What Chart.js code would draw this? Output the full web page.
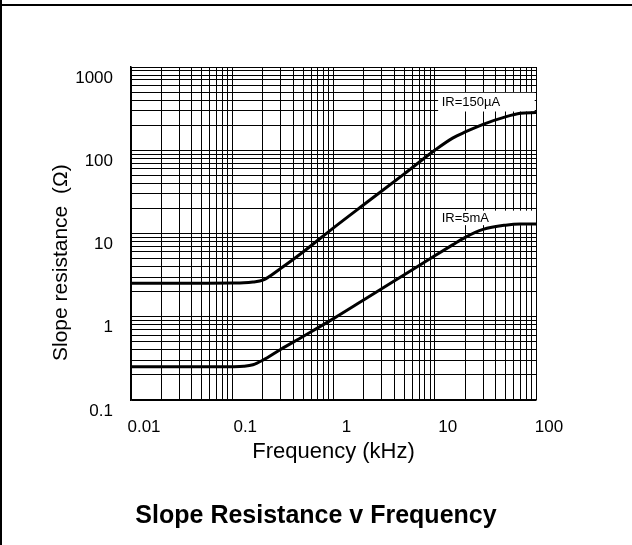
<!DOCTYPE html>
<html>
<head>
<meta charset="utf-8">
<script src="https://cdn.jsdelivr.net/npm/chart.js@4.4.0/dist/chart.umd.min.js"></script>
<style>
body { margin: 0; background: #fff; }
#wrap { position: relative; width: 632px; height: 545px; }
#frameTop { position: absolute; left: 0; top: 4px; width: 632px; height: 2px; background: #000; }
#frameLeft { position: absolute; left: 0; top: 0; width: 2px; height: 545px; background: #000; }
</style>
</head>
<body>
<div id="wrap">
  <canvas id="grafico"></canvas>
  <div id="frameTop"></div>
  <div id="frameLeft"></div>
</div>
<script>
var frecuencias = [0.01, 0.02, 0.05, 0.1, 0.13, 0.16, 0.2, 0.3, 0.5, 1, 2, 5, 10, 15, 20, 30, 50, 70, 100];
var r150uA = [2.53, 2.53, 2.53, 2.54, 2.56, 2.62, 2.75, 3.8, 6.0, 11.7, 22.3, 52, 100, 140, 166, 205, 252, 278, 284];
var r5mA = [0.25, 0.25, 0.25, 0.251, 0.254, 0.265, 0.30, 0.405, 0.58, 0.95, 1.6, 3.2, 5.4, 7.3, 9.0, 11.2, 12.6, 13.0, 13.0];
var decadasX = [0.01, 0.1, 1, 10, 100];
var decadasY = [0.1, 1, 10, 100, 1000];

var fuente = "'Liberation Sans', Arial, sans-serif";

// grid lines at 1..9 of every decade
function rejilla(decadas) {
  var t = [];
  for (var i = 0; i < decadas.length - 1; i++) {
    for (var k = 1; k < 10; k++) t.push(k === 1 ? decadas[i] : k * decadas[i]);
  }
  t.push(decadas[decadas.length - 1]);
  return t;
}

function puntos(vals) {
  return frecuencias.map(function (f, i) { return { x: f, y: vals[i] }; });
}

// white boxed curve labels
var notas = [
  { texto: 'IR=150\u00b5A', x0: 10.8, x1: 97, yTop: 490, yBot: 292, xt: 11.7, yt: 375 },
  { texto: 'IR=5mA', x0: 10.8, x1: 97, yTop: 18.8, yBot: 12.6, xt: 11.7, yt: 15.2 }
];

var etiquetas = {
  id: 'etiquetas',
  beforeDatasetsDraw: function (chart) {
    var ctx = chart.ctx, sx = chart.scales.x, sy = chart.scales.y;
    ctx.save();
    notas.forEach(function (n) {
      var l = sx.getPixelForValue(n.x0), r = sx.getPixelForValue(n.x1);
      var t = sy.getPixelForValue(n.yTop), b = sy.getPixelForValue(n.yBot);
      ctx.fillStyle = '#fff';
      ctx.fillRect(l, t, r - l, b - t);
      ctx.fillStyle = '#000';
      ctx.font = '13px ' + fuente;
      ctx.textBaseline = 'middle';
      ctx.textAlign = 'left';
      ctx.fillText(n.texto, sx.getPixelForValue(n.xt), sy.getPixelForValue(n.yt));
    });
    ctx.restore();
  }
};

var ctx = document.getElementById('grafico');

var grafico = new Chart(ctx, {
  type: 'line',
  data: {
    datasets: [{
      label: 'IR=150\u00b5A',
      data: puntos(r150uA),
      borderColor: '#000',
      borderWidth: 3,
      pointRadius: 0,
      cubicInterpolationMode: 'monotone',
      fill: false
    }, {
      label: 'IR=5mA',
      data: puntos(r5mA),
      borderColor: '#000',
      borderWidth: 3,
      pointRadius: 0,
      cubicInterpolationMode: 'monotone',
      fill: false
    }]
  },
  options: {
    responsive: true,
    maintainAspectRatio: false,
    animation: false,
    layout: { padding: { top: 67, left: 0, right: 0, bottom: 0 } },
    plugins: {
      legend: { display: false },
      tooltip: { enabled: false },
      title: {
        display: true,
        text: 'Slope Resistance v Frequency',
        position: 'bottom',
        color: '#000',
        font: { family: fuente, size: 25, weight: 'bold' },
        padding: { top: 0, bottom: 14 }
      }
    },
    scales: {
      x: {
        type: 'logarithmic',
        position: 'bottom',
        min: 0.01,
        max: 100,
        afterBuildTicks: function (a) { a.ticks = rejilla(decadasX).map(function (v) { return { value: v }; }); },
        afterFit: function (a) { a.height = 101; },
        grid: { color: '#000', lineWidth: 1, drawTicks: false },
        border: { color: '#000', width: 1.5 },
        ticks: {
          autoSkip: false,
          maxRotation: 0,
          padding: 17,
          labelOffset: 13,
          color: '#000',
          font: { family: fuente, size: 17 },
          callback: function (v) { return decadasX.indexOf(v) >= 0 ? String(v) : ''; }
        },
        title: {
          display: true,
          text: 'Frequency (kHz)',
          color: '#000',
          font: { family: fuente, size: 22 },
          padding: { top: 0, bottom: 36 }
        }
      },
      y: {
        type: 'logarithmic',
        position: 'left',
        min: 0.1,
        max: 1000,
        afterBuildTicks: function (a) { a.ticks = rejilla(decadasY).map(function (v) { return { value: v }; }); },
        afterFit: function (a) { a.width = 131; },
        grid: { color: '#000', lineWidth: 1, drawTicks: false },
        border: { color: '#000', width: 1.5 },
        ticks: {
          autoSkip: false,
          padding: 18,
          labelOffset: 11,
          color: '#000',
          font: { family: fuente, size: 17 },
          callback: function (v) { return decadasY.indexOf(v) >= 0 ? String(v) : ''; }
        },
        title: {
          display: true,
          // trailing spaces push the text down like in the original
          text: 'Slope resistance  (\u03a9)          ',
          color: '#000',
          font: { family: fuente, size: 21 },
          padding: { top: 49, bottom: 0 }
        }
      },
      derecha: {
        type: 'linear',
        position: 'right',
        display: true,
        grid: { display: false },
        border: { display: false },
        ticks: { display: false },
        afterFit: function (a) { a.width = 96; }
      }
    }
  },
  plugins: [etiquetas]
});
</script>
</body>
</html>
